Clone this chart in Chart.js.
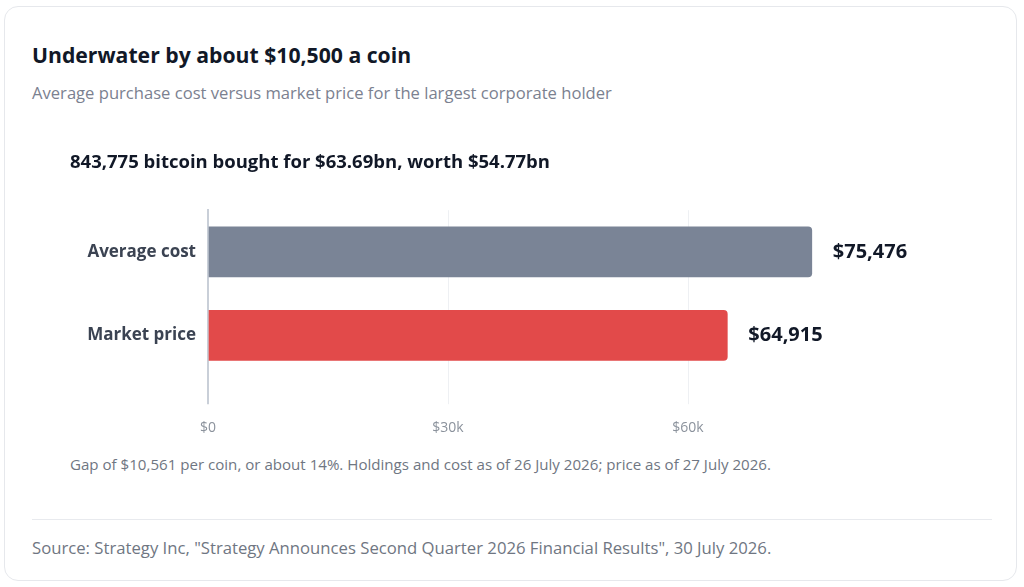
<!DOCTYPE html>
<html>
<head>
<meta charset="utf-8">
<script src="https://cdn.jsdelivr.net/npm/chart.js@4.4.1/dist/chart.umd.min.js"></script>
<style>
  html, body { margin: 0; padding: 0; background: #ffffff; width: 1024px; height: 587px; overflow: hidden; }
  body { font-family: "Open Sans", "Noto Sans", sans-serif; }
  .card { position: absolute; left: 4px; top: 6px; width: 1011px; height: 573px; border: 1px solid #e6e8ec; border-radius: 14px; background: #fff; }
  .title { position: absolute; left: 32px; top: 41px; margin: 0; font-size: 21.2px; font-weight: 700; color: #111827; line-height: 28px; white-space: nowrap; }
  .subtitle { position: absolute; left: 32px; top: 81px; margin: 0; font-size: 16.6px; color: #7b8190; line-height: 24px; white-space: nowrap; }
  .chartbox { position: absolute; left: 32px; top: 140px; width: 960px; height: 311px; }
  .note { position: absolute; left: 70px; top: 454px; font-size: 15.1px; color: #6f7682; line-height: 20px; white-space: nowrap; }
  .sep { position: absolute; left: 32px; top: 519px; width: 960px; height: 1px; background: #e8eaee; }
  .source { position: absolute; left: 32px; top: 537px; font-size: 16.7px; color: #6f7682; line-height: 22px; white-space: nowrap; }
</style>
</head>
<body>
<div class="card"></div>
<h1 class="title">Underwater by about $10,500 a coin</h1>
<p class="subtitle">Average purchase cost versus market price for the largest corporate holder</p>
<div class="chartbox"><canvas id="c"></canvas></div>
<div class="note">Gap of $10,561 per coin, or about 14%. Holdings and cost as of 26 July 2026; price as of 27 July 2026.</div>
<div class="sep"></div>
<div class="source">Source: Strategy Inc, "Strategy Announces Second Quarter 2026 Financial Results", 30 July 2026.</div>
<script>
const chartTitle = "843,775 bitcoin bought for $63.69bn, worth $54.77bn";
const categories = ["Average cost", "Market price"];
const values = [75476, 64915];
const barColors = ["#7a8496", "#e24a4a"];
const xTickValues = [0, 30000, 60000];
const xMax = 88000;

const fmtValue = v => "$" + v.toLocaleString("en-US");
const fmtTick = v => v === 0 ? "$0" : "$" + (v / 1000) + "k";

const valueLabels = {
  id: "valueLabels",
  afterDatasetsDraw(chart) {
    const ctx = chart.ctx;
    const meta = chart.getDatasetMeta(0);
    ctx.save();
    ctx.font = "700 20px 'Open Sans', sans-serif";
    ctx.fillStyle = "#111827";
    ctx.textAlign = "left";
    ctx.textBaseline = "middle";
    meta.data.forEach((bar, i) => {
      ctx.fillText(fmtValue(values[i]), bar.x + 21, bar.y);
    });
    ctx.restore();
  }
};

new Chart(document.getElementById("c"), {
  type: "bar",
  data: {
    labels: categories,
    datasets: [{
      data: values,
      backgroundColor: barColors,
      borderWidth: 0,
      borderRadius: 4,
      borderSkipped: "start",
      barThickness: 50
    }]
  },
  options: {
    indexAxis: "y",
    responsive: true,
    maintainAspectRatio: false,
    animation: false,
    layout: { padding: { left: 38, right: 80, top: 0, bottom: 0 } },
    plugins: {
      legend: { display: false },
      tooltip: { enabled: false },
      title: {
        display: true,
        text: chartTitle,
        align: "start",
        color: "#111827",
        font: { family: "'Open Sans', sans-serif", size: 18.5, weight: "700" },
        padding: { top: 12, bottom: 36 }
      }
    },
    scales: {
      x: {
        min: 0,
        max: xMax,
        border: { display: false },
        afterBuildTicks: scale => { scale.ticks = xTickValues.map(v => ({ value: v })); },
        grid: {
          color: ctx => (ctx.tick && ctx.tick.value === 0) ? "#c9cfd8" : "#eef0f3",
          lineWidth: ctx => (ctx.tick && ctx.tick.value === 0) ? 2 : 1,
          tickColor: ctx => (ctx.tick && ctx.tick.value === 0) ? "#c9cfd8" : "#eef0f3",
          tickLength: 27,
          drawTicks: true
        },
        ticks: {
          padding: 15,
          color: "#8b929c",
          font: { family: "'Open Sans', sans-serif", size: 14 },
          callback: v => fmtTick(v)
        }
      },
      y: {
        grid: { display: false },
        border: { display: true, color: "#c9cfd8", width: 2 },
        afterFit: scale => { scale.width = 138; },
        ticks: {
          padding: 4,
          color: "#3b4352",
          font: { family: "'Open Sans', sans-serif", size: 17, weight: "700" }
        }
      }
    }
  },
  plugins: [valueLabels]
});
</script>
</body>
</html>
